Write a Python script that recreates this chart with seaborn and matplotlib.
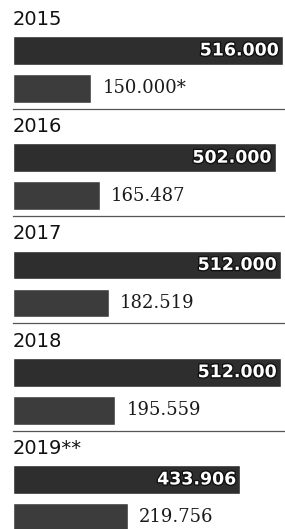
import matplotlib
matplotlib.use('Agg')
import matplotlib.pyplot as plt
import matplotlib.patheffects as pe
import pandas as pd
import seaborn as sns

# data
years = ['2015', '2016', '2017', '2018', '2019**']
big_values = [516000, 502000, 512000, 512000, 433906]
small_values = [150000, 165487, 182519, 195559, 219756]
small_suffix = ['*', '', '', '', '']

def fmt(v):
    return f"{v:,}".replace(',', '.')

sns.set_theme(style='white')
plt.rcParams['font.family'] = ['DejaVu Sans']

W, H = 285, 529
fig = plt.figure(figsize=(W / 100, H / 100), dpi=100)
fig.patch.set_facecolor('white')

left_px, width_px = 13, 272
unit_px = 38          # distance between the two bar centres
bar_w = 0.76
sep_gap = 0.16
first_top, period = 36, 107.25
xmax = max(big_values) * width_px / 270

for i, year in enumerate(years):
    top = first_top + i * period
    h = (1 + bar_w + sep_gap) * unit_px
    ax = fig.add_axes([left_px / W, 1 - (top + h) / H, width_px / W, h / H])
    df = pd.DataFrame({'kind': ['big', 'small'],
                       'value': [big_values[i], small_values[i]]})
    sns.barplot(data=df, x='value', y='kind', hue='kind',
                palette=['#2e2e2e', '#3c3c3c'], width=bar_w,
                legend=False, ax=ax, saturation=1)
    ax.set_xlim(0, xmax)
    ax.set_ylim(1 + bar_w / 2 + sep_gap, -bar_w / 2)
    ax.set_xlabel('')
    ax.set_ylabel('')
    ax.set_xticks([])
    ax.set_yticks([])
    ax.set_facecolor('none')
    for s in ['top', 'left', 'right']:
        ax.spines[s].set_visible(False)
    if i < len(years) - 1:
        ax.spines['bottom'].set_color('#555555')
        ax.spines['bottom'].set_linewidth(0.9)
        ax.spines['bottom'].set_linestyle((0, (3, 1)))
    else:
        ax.spines['bottom'].set_visible(False)

    ax.set_title(year, loc='left', pad=8, fontsize=14, color='#111111')

    ax.annotate(fmt(big_values[i]), xy=(big_values[i], 0),
                xytext=(-4, 0), textcoords='offset pixels',
                ha='right', va='center', fontsize=12.5, fontweight='bold',
                color='white',
                path_effects=[pe.withStroke(linewidth=2, foreground='#111111')])
    ax.annotate(fmt(small_values[i]) + small_suffix[i], xy=(small_values[i], 1),
                xytext=(11, 0), textcoords='offset pixels',
                ha='left', va='center', fontsize=13, color='#1a1a1a',
                family='DejaVu Serif')

fig.savefig('out.png', dpi=100, facecolor='white')
